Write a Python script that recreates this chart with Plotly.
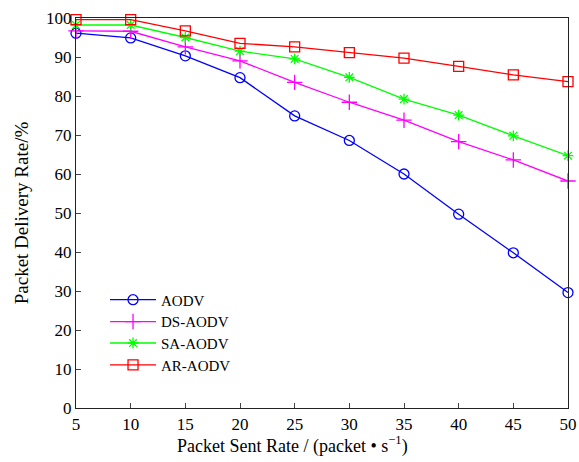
import plotly.graph_objects as go

rates = [5, 10, 15, 20, 25, 30, 35, 40, 45, 50]
aodv = [96.1, 94.9, 90.3, 84.7, 74.9, 68.6, 60.0, 49.7, 39.8, 29.6]
ds_aodv = [96.7, 96.6, 92.6, 89.0, 83.5, 78.4, 73.8, 68.3, 63.6, 58.2]
sa_aodv = [98.2, 98.2, 95.0, 91.5, 89.5, 84.8, 79.2, 75.1, 69.8, 64.7]
ar_aodv = [99.6, 99.6, 96.7, 93.5, 92.6, 91.1, 89.7, 87.6, 85.4, 83.7]

series = [
    ("AODV", aodv, "#0000ff", "circle-open", 10, "legend"),
    ("DS-AODV", ds_aodv, "#ff00ff", "cross-thin-open", 11, "legend2"),
    ("SA-AODV", sa_aodv, "#00ff00", "asterisk-open", 9, "legend3"),
    ("AR-AODV", ar_aodv, "#ff0000", "square-open", 10, "legend4"),
]

fig = go.Figure()
for name, vals, color, sym, size, lg in series:
    fig.add_trace(go.Scatter(
        x=rates, y=vals, name=name, mode="lines+markers",
        line=dict(color=color, width=1.3),
        marker=dict(symbol=sym, size=size, color=color, line=dict(color=color, width=1.3)),
        cliponaxis=False, legend=lg,
    ))

font = "Liberation Serif, Times New Roman, serif"
legend_y = [0.277, 0.221, 0.166, 0.110]
legend_common = dict(x=0.059, xanchor="left", yanchor="middle",
                     bgcolor="rgba(0,0,0,0)", borderwidth=0,
                     font=dict(family=font, size=15, color="black"),
                     itemwidth=46)
legends = {}
for i, key in enumerate(["legend", "legend2", "legend3", "legend4"]):
    legends[key] = dict(y=legend_y[i], **legend_common)

fig.update_layout(
    width=579, height=462,
    margin=dict(l=76, r=11, t=18, b=54, autoexpand=False),
    paper_bgcolor="white", plot_bgcolor="white",
    font=dict(family=font, size=17, color="black"),
    showlegend=True,
    **legends,
    xaxis=dict(range=[5, 50], tickvals=rates, ticks="inside", ticklen=5,
               showline=True, mirror=True, linecolor="#222", linewidth=1.2,
               showgrid=False, zeroline=False, automargin=False,
               tickfont=dict(family=font, size=17)),
    yaxis=dict(range=[0, 100], tickvals=list(range(0, 101, 10)), ticks="inside", ticklen=5,
               showline=True, mirror=True, linecolor="#222", linewidth=1.2,
               showgrid=False, zeroline=False, automargin=False,
               tickfont=dict(family=font, size=17),
               title=dict(text="Packet Delivery Rate/%", font=dict(family=font, size=19), standoff=12)),
    annotations=[dict(text="Packet Sent Rate / (packet • s<sup>−1</sup>)",
                      xref="paper", yref="paper", x=0.441, y=-0.095,
                      xanchor="center", yanchor="middle", showarrow=False,
                      font=dict(family=font, size=18))],
)

fig.write_html("out.html")
